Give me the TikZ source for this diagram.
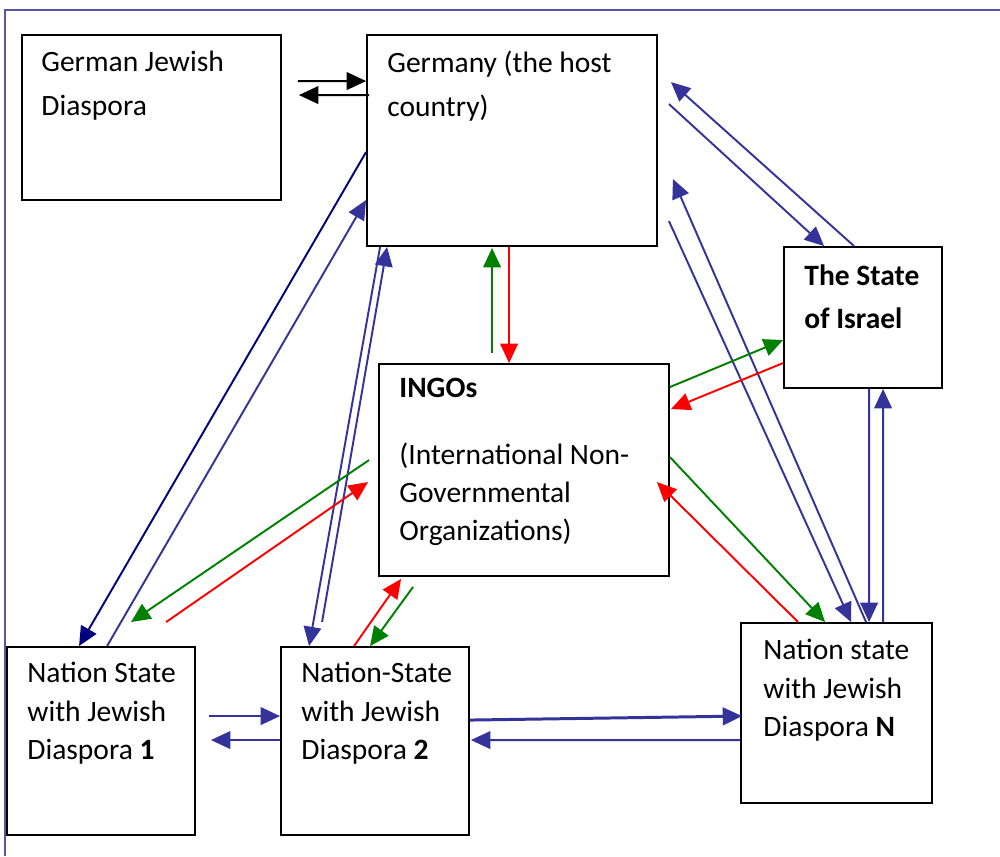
\documentclass[tikz,border=0pt]{standalone}
\usepackage{fontspec}
\setmainfont{Carlito}
\usetikzlibrary{positioning,calc,arrows.meta}
\definecolor{dblue}{HTML}{333399}
\definecolor{navy}{HTML}{000080}
\definecolor{dgreen}{HTML}{008000}
\definecolor{framec}{HTML}{5555AA}
\tikzset{box/.style={draw, line width=1.1pt, rectangle, inner sep=0pt},
  txt/.style={anchor=north west, align=left, inner sep=0pt, font=\fontsize{16.8}{24.6}\selectfont},
  ntxt/.style={txt, font=\fontsize{16.8}{21.8}\selectfont},
  link/.style={-{Triangle[length=11pt,width=10pt]}, line width=1.1pt},
  bl/.style={link, dblue}, gr/.style={link, dgreen}, rd/.style={link, red}}

\begin{document}
\begin{tikzpicture}[x=0.02cm, y=-0.02cm]
  \useasboundingbox (0,0) rectangle (1000,856);
  \draw[framec, line width=0.9pt] (5,856) -- (5,10) -- (1000,10);

  \node[box, minimum width=5.18cm, minimum height=3.30cm] (gjd) at (151.5,117.5) {};
  \node[box, minimum width=5.80cm, minimum height=4.22cm] (ger) at (512,140.5) {};
  \node[box, minimum width=3.16cm, minimum height=2.82cm] (isr) at (863,317.5) {};
  \node[box, minimum width=5.80cm, minimum height=4.24cm] (ngo) at (524,470) {};
  \node[box, minimum width=3.76cm, minimum height=3.76cm] (ns1) at (101,741) {};
  \node[box, minimum width=3.76cm, minimum height=3.76cm] (ns2) at (375,741) {};
  \node[box, minimum width=3.82cm, minimum height=3.60cm] (nsn) at (836.5,713) {};

  \node[txt, below right=0.34cm and 0.40cm of gjd.north west] (tgjd) {German Jewish\\Diaspora};
  \node[txt, below right=0.34cm and 0.42cm of ger.north west] (tger) {Germany (the host\\country)};
  \node[txt, below right=0.36cm and 0.42cm of isr.north west, font=\fontsize{16.8}{24.6}\selectfont\bfseries] (tisr) {The State\\of Israel};
  \node[ntxt, below right=0.30cm and 0.42cm of ngo.north west] (tngo) {\textbf{INGOs}\\[16pt](International Non-\\Governmental\\Organizations)};
  \node[ntxt, below right=0.32cm and 0.42cm of ns1.north west] (tns1) {Nation State\\with Jewish\\Diaspora \textbf{1}};
  \node[ntxt, below right=0.32cm and 0.42cm of ns2.north west] (tns2) {Nation-State\\with Jewish\\Diaspora \textbf{2}};
  \node[ntxt, below right=0.34cm and 0.46cm of nsn.north west] (tnsn) {Nation state\\with Jewish\\Diaspora \textbf{N}};

  \draw[link, black] ($(gjd.north east)+(16,47)$) -- ($(ger.north west)+(0,47)$);
  \draw[link, black] ($(ger.north west)+(3,61)$) -- ($(gjd.north east)+(17,61)$);

  \draw[link, navy] ($(ger.north west)+(0,118)$) -- ($(ns1.north west)+(73,0)$);
  \draw[bl] ($(ns1.north west)+(101,0)$) -- ($(ger.north west)+(0,166)$);
  \draw[bl] ($(ger.south west)+(14,0)$) -- ($(ns2.north west)+(29,0)$);
  \draw[bl] ($(ns2.north west)+(42,-24)$) -- ($(ger.south west)+(21,0)$);
  \draw[bl] ($(ger.north east)+(11,70)$) -- ($(isr.north west)+(41,0)$);
  \draw[bl] ($(isr.north west)+(71,0)$) -- ($(ger.north east)+(13,48)$);
  \draw[bl] ($(ger.north east)+(11,187)$) -- ($(nsn.north west)+(111,0)$);
  \draw[bl] ($(nsn.north west)+(126,0)$) -- ($(ger.north east)+(15,145)$);
  \draw[bl] ($(isr.south west)+(86,0)$) -- ($(nsn.north west)+(129,0)$);
  \draw[bl] ($(nsn.north west)+(143,0)$) -- ($(isr.south west)+(100,0)$);
  \draw[bl] ($(ns1.north east)+(13,70)$) -- ($(ns2.north west)+(0,70)$);
  \draw[bl] ($(ns2.north west)+(0,94)$) -- ($(ns1.north east)+(15,94)$);
  \draw[bl, line width=1.7pt] ($(ns2.north east)+(0,74)$) -- ($(nsn.north west)+(2,94)$);
  \draw[bl] ($(nsn.north west)+(0,118)$) -- ($(ns2.north east)+(1,94)$);

  \draw[gr] ($(ngo.north west)+(114,-10)$) -- ($(ger.south west)+(126,1)$);
  \draw[rd] ($(ger.south west)+(143,0)$) -- ($(ngo.north west)+(131,0)$);
  \draw[gr] ($(ngo.north east)+(0,24)$) -- ($(isr.north west)+(0,94)$);
  \draw[rd] ($(isr.north west)+(0,117)$) -- ($(ngo.north east)+(1,46)$);
  \draw[gr] ($(ngo.north east)+(0,94)$) -- ($(nsn.north west)+(85,0)$);
  \draw[rd] ($(nsn.north west)+(58,0)$) -- ($(ngo.north east)+(-13,119)$);
  \draw[gr] ($(ngo.north west)+(-9,97)$) -- ($(ns1.north west)+(125,-24)$);
  \draw[rd] ($(ns1.north west)+(160,-24)$) -- ($(ngo.north west)+(-10,119)$);
  \draw[rd] ($(ns2.north west)+(74,0)$) -- ($(ngo.south west)+(23,2)$);
  \draw[gr] ($(ngo.south west)+(35,10)$) -- ($(ns2.north west)+(90,0)$);
\end{tikzpicture}
\end{document}
